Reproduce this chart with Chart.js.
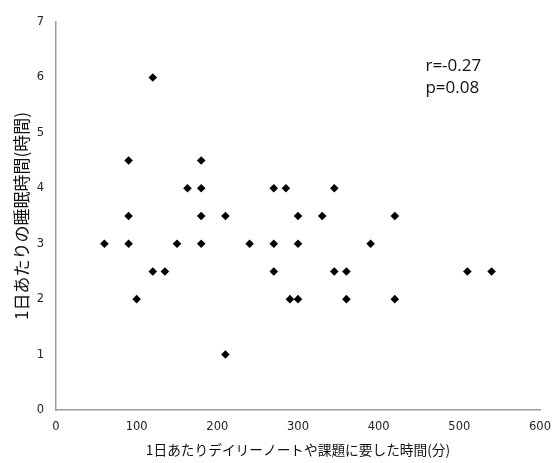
<!DOCTYPE html>
<html>
<head>
<meta charset="utf-8">
<style>
  html, body { margin: 0; padding: 0; background: #fff; }
  #wrap { width: 553px; height: 463px; }
</style>
</head>
<body>
<div id="wrap"><canvas id="myChart"></canvas></div>

<script src="https://cdn.jsdelivr.net/npm/chart.js"></script>
<script>
  // ノート・課題の時間(分)
  const noteMinutes = [
    120,
    90, 180,
    163, 180, 270, 285, 345,
    90, 180, 210, 300, 330, 420,
    60, 90, 150, 180, 240, 270, 300, 390,
    120, 135, 270, 345, 360, 510, 540,
    100, 290, 300, 360, 420,
    210
  ];
  // 睡眠時間(時間)
  const sleepHours = [
    6,
    4.5, 4.5,
    4, 4, 4, 4, 4,
    3.5, 3.5, 3.5, 3.5, 3.5, 3.5,
    3, 3, 3, 3, 3, 3, 3, 3,
    2.5, 2.5, 2.5, 2.5, 2.5, 2.5, 2.5,
    2, 2, 2, 2, 2,
    1
  ];
  const xTitle = '1日あたりデイリーノートや課題に要した時間(分)';
  const yTitle = '1日あたりの睡眠時間(時間)';
  const statLines = ['r=-0.27', 'p=0.08'];

  const points = noteMinutes.map((x, i) => ({ x: x, y: sleepHours[i] }));

  // r / p の表示
  const statsText = {
    id: 'statsText',
    afterDatasetsDraw(chart) {
      const ctx = chart.ctx;
      const xs = chart.scales.x, ys = chart.scales.y;
      ctx.save();
      ctx.fillStyle = '#111';
      ctx.font = '17px "Open Sans", "Liberation Sans", sans-serif';
      ctx.textBaseline = 'middle';
      ctx.textAlign = 'left';
      const left = xs.getPixelForValue(458);
      let top = ys.getPixelForValue(6.2);
      statLines.forEach(function (t) {
        ctx.fillText(t, left, top);
        top += 22;
      });
      ctx.restore();
    }
  };

  const config = {
    type: 'scatter',
    data: {
      datasets: [{
        data: points,
        backgroundColor: '#000',
        borderColor: '#000',
        pointStyle: 'rectRot',
        pointRadius: 4.3,
        pointBorderWidth: 0
      }]
    },
    options: {
      responsive: true,
      maintainAspectRatio: false,
      animation: false,
      layout: { padding: { top: 22, right: 0, left: 11, bottom: 0 } },
      plugins: {
        legend: { display: false },
        tooltip: { enabled: false }
      },
      scales: {
        x: {
          type: 'linear',
          min: 0,
          max: 600,
          ticks: {
            stepSize: 100,
            color: '#222',
            padding: 10,
            font: { family: '"DejaVu Sans"', size: 11.5 }
          },
          grid: { display: false, drawTicks: false },
          border: { display: true, color: '#9a9a9a', width: 1.5 },
          title: {
            display: true,
            text: xTitle,
            color: '#111',
            padding: { top: 2, bottom: 5 },
            font: { family: '"Noto Sans CJK JP"', size: 13.7 }
          },
          afterFit(scale) {
            scale.height = 53;
            scale.paddingRight = 13;
            scale.paddingLeft = 0;
          }
        },
        y: {
          type: 'linear',
          min: 0,
          max: 7,
          ticks: {
            stepSize: 1,
            color: '#222',
            padding: 12,
            font: { family: '"DejaVu Sans"', size: 11.5 }
          },
          grid: { display: false, drawTicks: false },
          border: { display: true, color: '#9a9a9a', width: 1.5 },
          title: {
            display: true,
            text: yTitle,
            color: '#111',
            padding: { top: 0, bottom: 4 },
            font: { family: '"Noto Sans CJK JP"', size: 17 }
          },
          afterFit(scale) { scale.width = 45; }
        }
      }
    },
    plugins: [statsText]
  };

  const myChart = new Chart(document.getElementById('myChart'), config);
</script>
</body>
</html>
